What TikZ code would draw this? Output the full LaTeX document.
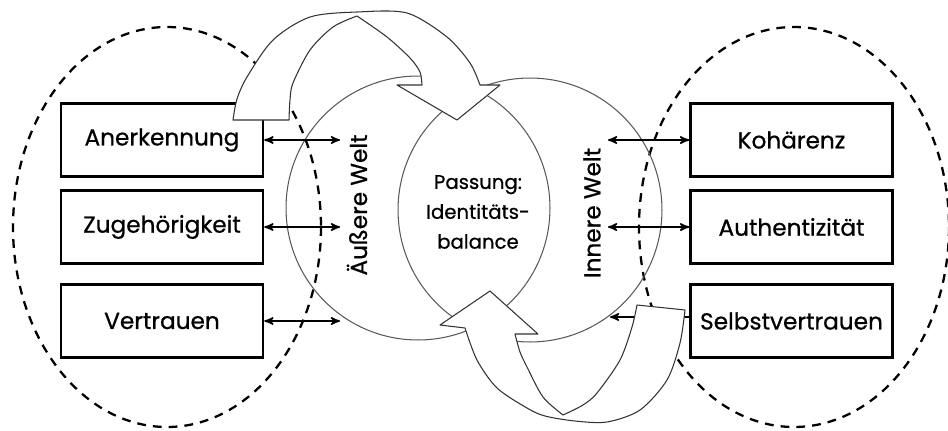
\documentclass[tikz,border=0pt]{standalone}
\usepackage{fontspec}
\setmainfont{Poppins}[FakeBold=0.7]
\usetikzlibrary{arrows,positioning}
\tikzstyle{box}=[draw, line width=1.5pt, minimum width=4.04cm, minimum height=1.46cm, font=\fontsize{13.2}{15}\selectfont]
\tikzstyle{lbl}=[font=\fontsize{13.2}{15}\selectfont]
\tikzstyle{mid}=[font=\fontsize{11.2}{17}\selectfont, align=center]
\tikzstyle{world}=[circle, draw=black!65, line width=0.6pt, minimum size=5.28cm, inner sep=0pt]
\tikzstyle{field}=[dash pattern=on 5pt off 4pt, line width=1.3pt]
\tikzstyle{band}=[draw=black!80, line width=0.6pt, fill=white, line join=round]
\tikzstyle{both}=[<->,>=stealth',line width=0.9pt]
\tikzstyle{post}=[->,>=stealth',line width=0.9pt]

\begin{document}
\begin{tikzpicture}[x=0.02cm,y=-0.02cm]
  \useasboundingbox (0,0) rectangle (948,430);

  % dashed fields
  \draw[field] (167,227) ellipse [x radius=154, y radius=200];
  \draw[field] (794,227) ellipse [x radius=155, y radius=200];

  % the two worlds
  \node (aussen) [world] at (418,208) {};
  \node (innen) [world] at (530,210) {};

  \node (aw) [lbl, rotate=90] at (357,205) {Äußere Welt};
  \node (iw) [lbl, rotate=90] at (592,213) {Innere Welt};
  \node (pass) [mid] at (478,212) {Passung:\\Identitäts-\\balance};

  % boxes
  \node (anerk) [box] at (162,140) {Anerkennung};
  \node (zuge) [box] at (162,227) {Zugehörigkeit};
  \node (vert) [box] at (162,321) {Vertrauen};
  \node (koh) [box, right=8.5cm of anerk] {Kohärenz};
  \node (auth) [box, right=8.5cm of zuge] {Authentizität};
  \node (selbst) [box, right=8.5cm of vert] {Selbstvertrauen};

  \coordinate (a1) at (340,140);
  \coordinate (a2) at (340,227);
  \coordinate (a3) at (340,321);
  \coordinate (i1) at (608,140);
  \coordinate (i2) at (608,227);
  \coordinate (i3) at (610,317);

  \draw[both] (anerk) -- (a1);
  \draw[both] (zuge) -- (a2);
  \draw[both] (vert) -- (a3);
  \draw[both] (i1) -- (koh);
  \draw[both] (i2) -- (auth);
  \draw[post] (selbst.west |- i3) -- (i3);

  % curved arrow, top
  \draw[band] plot[smooth] coordinates {(233,120) (237,99) (247,77) (273,40) (310,17) (357,12) (407,13) (447,37) (470,63) (480,85)}
    -- (500,85) -- (457,120) -- (397,85) -- (422,85)
    -- plot[smooth] coordinates {(422,85) (420,72) (410,58) (387,37) (357,16)}
    -- plot[smooth] coordinates {(357,16) (333,27) (310,50) (293,83) (290,100) (289,120)}
    -- cycle;

  % curved arrow, bottom
  \draw[band] (637,305) -- (685,310)
    -- plot[smooth] coordinates {(685,310) (680,343) (667,380) (640,410) (607,422) (575,421) (545,416) (527,408) (497,388) (477,360) (465,328)}
    -- (440,325) -- (490,291) -- (538,334) -- (515,334)
    -- plot[smooth] coordinates {(515,334) (520,352) (527,367) (543,397) (563,415)}
    -- plot[smooth] coordinates {(563,415) (583,405) (597,393) (620,360) (632,327) (637,305)}
    -- cycle;
\end{tikzpicture}
\end{document}
